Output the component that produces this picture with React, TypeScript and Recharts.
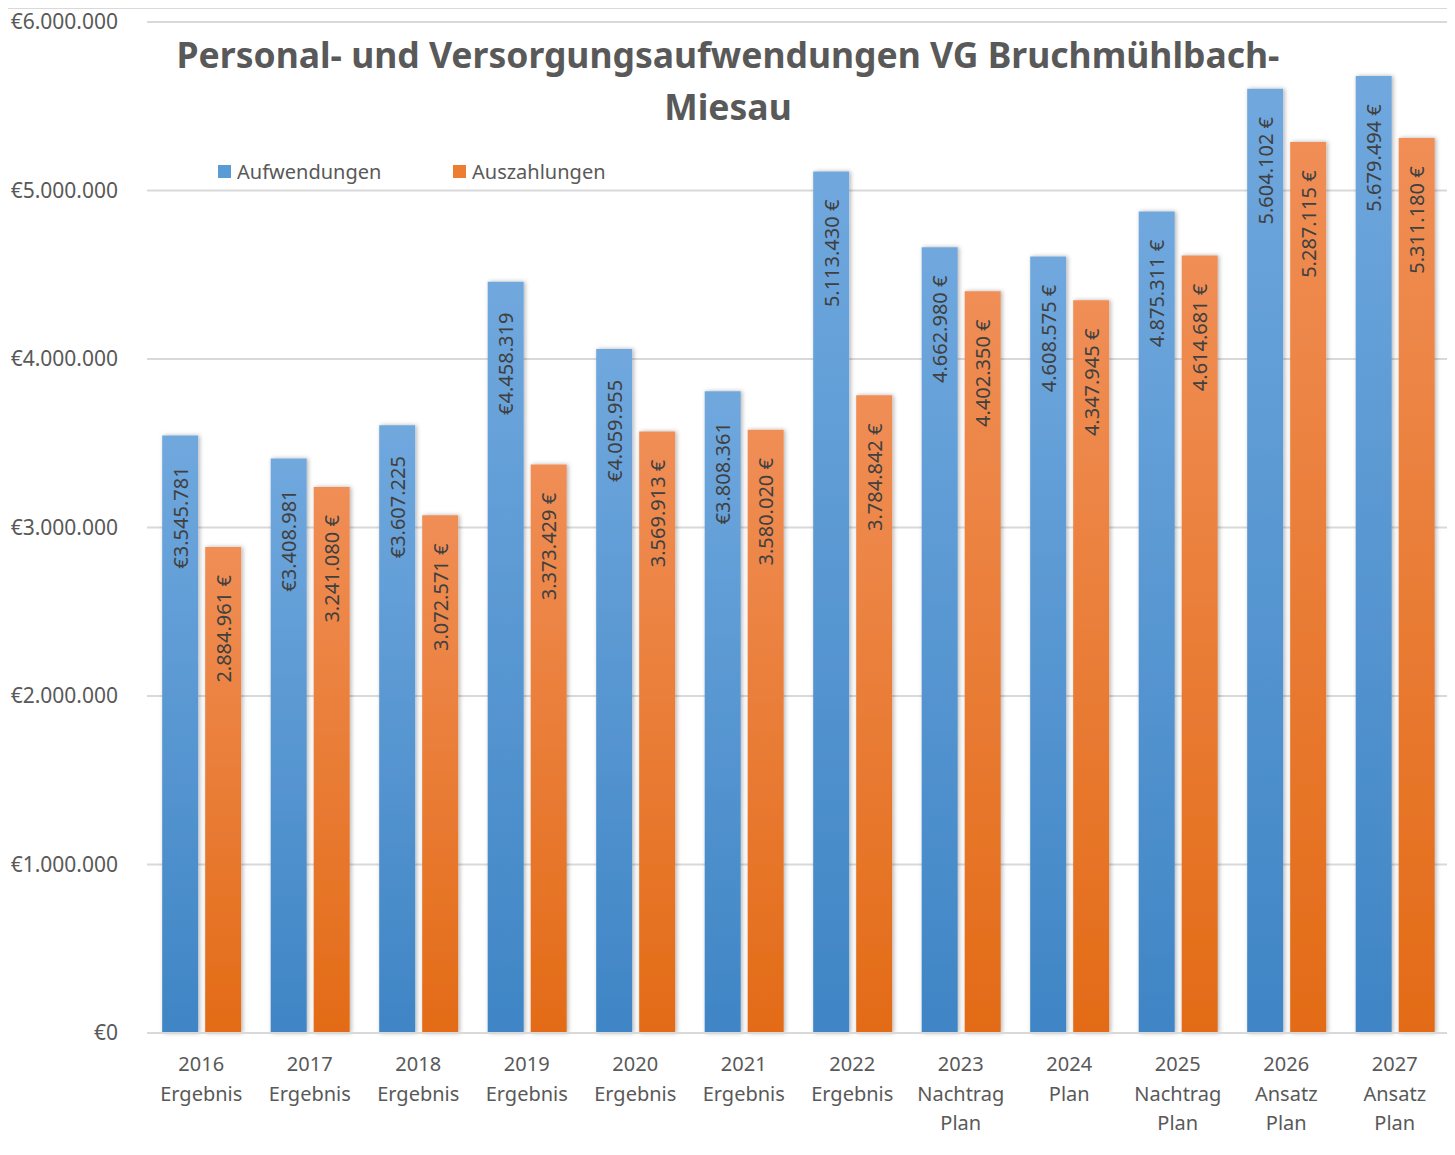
import { Bar, BarChart, CartesianGrid, XAxis, YAxis } from 'recharts'

const categories = [
  '2016\nErgebnis',
  '2017\nErgebnis',
  '2018\nErgebnis',
  '2019\nErgebnis',
  '2020\nErgebnis',
  '2021\nErgebnis',
  '2022\nErgebnis',
  '2023\nNachtrag\nPlan',
  '2024\nPlan',
  '2025\nNachtrag\nPlan',
  '2026\nAnsatz\nPlan',
  '2027\nAnsatz\nPlan',
]
const aufwendungen = [
  3545781, 3408981, 3607225, 4458319, 4059955, 3808361, 5113430, 4662980, 4608575, 4875311, 5604102,
  5679494,
]
const auszahlungen = [
  2884961, 3241080, 3072571, 3373429, 3569913, 3580020, 3784842, 4402350, 4347945, 4614681, 5287115,
  5311180,
]
// label style of the blue bars: euro sign in front (true) or behind (false)
const aufwEuroFirst = [true, true, true, true, true, true, false, false, false, false, false, false]
const yTicks = [0, 1000000, 2000000, 3000000, 4000000, 5000000, 6000000]

const data = categories.map((name, i) => ({
  name,
  Aufwendungen: aufwendungen[i],
  Auszahlungen: auszahlungen[i],
  euroFirst: aufwEuroFirst[i],
}))

const FONT = '"Noto Sans", sans-serif'
const GREY = '#595959'

const dots = (n: number) => String(Math.round(n)).replace(/\B(?=(\d{3})+(?!\d))/g, '.')

function CategoryTick({ x, y, payload }: any) {
  const lines = String(payload.value).split('\n')
  return (
    <text x={x} y={y} textAnchor="middle" fill={GREY} fontSize={20} fontFamily={FONT}>
      {lines.map((l, i) => (
        <tspan key={i} x={x} dy={i === 0 ? 30 : 29.5}>
          {l}
        </tspan>
      ))}
    </text>
  )
}

function makeLabel(kind: 'a' | 'b') {
  return (props: any) => {
    const { x, y, width, value, index } = props
    const text =
      kind === 'a' && data[index].euroFirst ? `€${dots(value)}` : `${dots(value)} €`
    const cx = x + width / 2
    const cy = y + 82
    return (
      <text
        x={cx}
        y={cy}
        transform={`rotate(-90 ${cx} ${cy})`}
        textAnchor="middle"
        dominantBaseline="central"
        fill="#404040"
        fontSize={20}
        fontFamily={FONT}
      >
        {text}
      </text>
    )
  }
}

export default function App() {
  return (
    <div style={{ position: 'relative', width: 1447, height: 1147, fontFamily: FONT }}>
      <div
        style={{
          position: 'absolute',
          left: -2,
          top: -1,
          width: 1441,
          height: 1150,
          border: '2px solid #d9d9d9',
          pointerEvents: 'none',
        }}
      />
      <BarChart
        width={1447}
        height={1147}
        data={data}
        margin={{ top: 14, right: 6, left: 0, bottom: 0 }}
        barCategoryGap="14%"
        barGap={7}
      >
        <defs>
          <linearGradient id="gBlue" x1="0" y1="0" x2="0" y2="1">
            <stop offset="0%" stopColor="#70a8de" />
            <stop offset="100%" stopColor="#3f85c5" />
          </linearGradient>
          <linearGradient id="gOrange" x1="0" y1="0" x2="0" y2="1">
            <stop offset="0%" stopColor="#f08e56" />
            <stop offset="100%" stopColor="#e36b17" />
          </linearGradient>
          <filter id="shadow" x="-20%" y="-5%" width="140%" height="110%">
            <feDropShadow dx="1.5" dy="0" stdDeviation="2" floodColor="#000" floodOpacity="0.3" />
          </filter>
        </defs>
        <CartesianGrid vertical={false} stroke="#d9d9d9" strokeWidth={2} />
        <XAxis
          dataKey="name"
          interval={0}
          tickLine={false}
          axisLine={{ stroke: '#d9d9d9', strokeWidth: 2 }}
          height={122}
          tick={<CategoryTick />}
        />
        <YAxis
          domain={[0, 6000000]}
          ticks={yTicks}
          width={139}
          tickLine={false}
          axisLine={false}
          tickSize={0}
          tickMargin={29}
          tick={{ fill: GREY, fontSize: 21, fontFamily: FONT }}
          tickFormatter={(v: number) => `€${dots(v)}`}
        />
        <Bar
          dataKey="Aufwendungen"
          fill="url(#gBlue)"
          filter="url(#shadow)"
          isAnimationActive={false}
          label={makeLabel('a')}
        />
        <Bar
          dataKey="Auszahlungen"
          fill="url(#gOrange)"
          filter="url(#shadow)"
          isAnimationActive={false}
          label={makeLabel('b')}
        />
      </BarChart>
      <div
        style={{
          position: 'absolute',
          left: 0,
          width: 1440,
          top: 20,
          textAlign: 'center',
          color: GREY,
          fontWeight: 700,
          fontSize: 35.5,
          lineHeight: '52px',
        }}
      >
        Personal- und Versorgungsaufwendungen VG Bruchmühlbach-
        <br />
        Miesau
      </div>
      <div
        style={{
          position: 'absolute',
          left: 210,
          top: 150,
          display: 'flex',
          alignItems: 'center',
          color: GREY,
          fontSize: 20,
        }}
      >
        <span style={{ width: 13, height: 13, background: '#5b9bd5', marginRight: 6 }} />
        <span style={{ width: 216 }}>Aufwendungen</span>
        <span style={{ width: 13, height: 13, background: '#ed7d31', marginRight: 6 }} />
        <span>Auszahlungen</span>
      </div>
    </div>
  )
}
